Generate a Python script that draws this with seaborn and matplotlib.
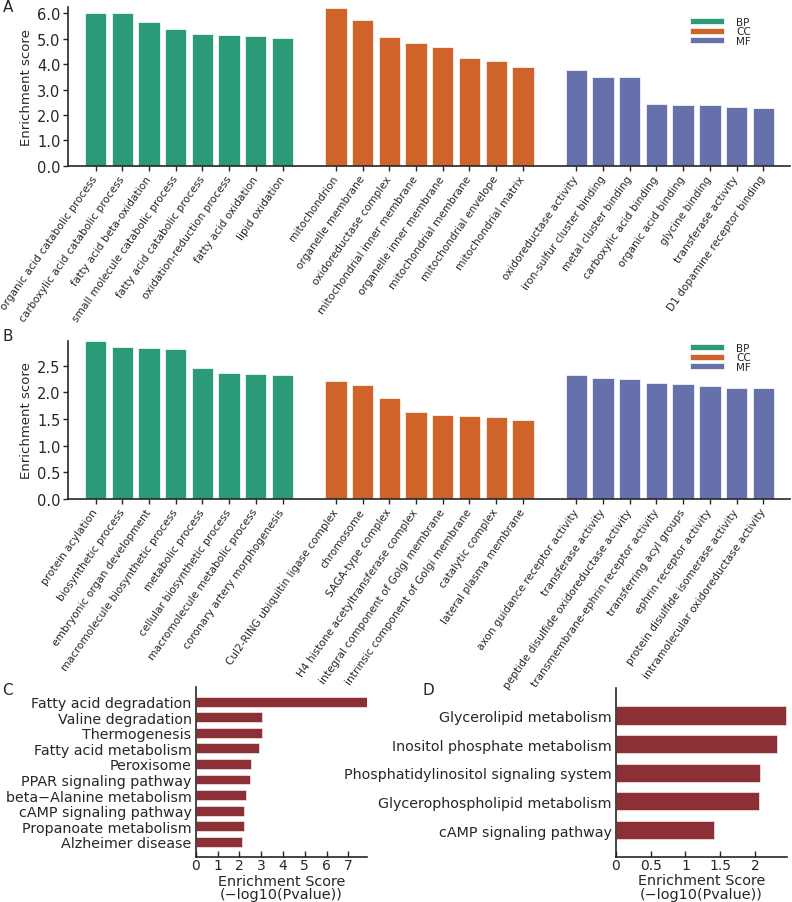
import numpy as np
import pandas as pd
import matplotlib.pyplot as plt
import seaborn as sns

# GO enrichment, panel A
a_bp_terms = ["organic acid catabolic process", "carboxylic acid catabolic process",
              "fatty acid beta-oxidation", "small molecule catabolic process",
              "fatty acid catabolic process", "oxidation-reduction process",
              "fatty acid oxidation", "lipid oxidation"]
a_bp_scores = [6.00, 6.00, 5.63, 5.37, 5.19, 5.14, 5.10, 5.02]
a_cc_terms = ["mitochondrion", "organelle membrane", "oxidoreductase complex",
              "mitochondrial inner membrane", "organelle inner membrane",
              "mitochondrial membrane", "mitochondrial envelope", "mitochondrial matrix"]
a_cc_scores = [6.20, 5.71, 5.05, 4.82, 4.65, 4.22, 4.10, 3.88]
a_mf_terms = ["oxidoreductase activity", "iron-sulfur cluster binding",
              "metal cluster binding", "carboxylic acid binding",
              "organic acid binding", "glycine binding", "transferase activity",
              "D1 dopamine receptor binding"]
a_mf_scores = [3.75, 3.51, 3.51, 2.45, 2.41, 2.39, 2.31, 2.28]

# GO enrichment, panel B
b_bp_terms = ["protein acylation", "biosynthetic process", "embryonic organ development",
              "macromolecule biosynthetic process", "metabolic process",
              "cellular biosynthetic process", "macromolecule metabolic process",
              "coronary artery morphogenesis"]
b_bp_scores = [2.95, 2.85, 2.83, 2.81, 2.46, 2.36, 2.34, 2.33]
b_cc_terms = ["Cul2-RING ubiquitin ligase complex", "chromosome", "SAGA-type complex",
              "H4 histone acetyltransferase complex", "integral component of Golgi membrane",
              "intrinsic component of Golgi membrane", "catalytic complex",
              "lateral plasma membrane"]
b_cc_scores = [2.21, 2.14, 1.89, 1.63, 1.58, 1.56, 1.53, 1.48]
b_mf_terms = ["axon guidance receptor activity", "transferase activity",
              "peptide disulfide oxidoreductase activity",
              "transmembrane-ephrin receptor activity", "transferring acyl groups",
              "ephrin receptor activity", "protein disulfide isomerase activity",
              "intramolecular oxidoreductase activity"]
b_mf_scores = [2.32, 2.27, 2.24, 2.17, 2.15, 2.11, 2.08, 2.08]

# KEGG, panel C
c_terms = ["Fatty acid degradation", "Valine degradation", "Thermogenesis",
           "Fatty acid metabolism", "Peroxisome", "PPAR signaling pathway",
           "beta\u2212Alanine metabolism", "cAMP signaling pathway",
           "Propanoate metabolism", "Alzheimer disease"]
c_scores = [7.84, 3.03, 3.02, 2.92, 2.52, 2.48, 2.31, 2.23, 2.23, 2.14]

# KEGG, panel D
d_terms = ["Glycerolipid metabolism", "Inositol phosphate metabolism",
           "Phosphatidylinositol signaling system", "Glycerophospholipid metabolism",
           "cAMP signaling pathway"]
d_scores = [2.44, 2.31, 2.07, 2.05, 1.41]

palette = {"BP": "#2b9a79", "CC": "#d0632a", "MF": "#6670aa"}
kegg_color = "#8d3035"

sns.set_style("ticks")
plt.rcParams["font.family"] = ["DejaVu Sans"]
plt.rcParams["axes.linewidth"] = 1.2

fig = plt.figure(figsize=(7.92, 9.03), dpi=100)


def go_panel(ax, bp, cc, mf, ytop, yticks, ylabels, legend_y):
    df = pd.concat([
        pd.DataFrame({"term": bp[0], "score": bp[1], "ont": "BP"}),
        pd.DataFrame({"term": cc[0], "score": cc[1], "ont": "CC"}),
        pd.DataFrame({"term": mf[0], "score": mf[1], "ont": "MF"}),
    ])
    # blank slots give the gaps between the three groups
    order = list(bp[0]) + [""] + list(cc[0]) + [" "] + list(mf[0])
    sns.barplot(data=df, x="term", y="score", hue="ont", order=order,
                hue_order=["BP", "CC", "MF"], palette=palette, dodge=False,
                saturation=1, width=0.8, edgecolor="white", linewidth=0.5, ax=ax)
    pos = [i for i, t in enumerate(order) if t.strip()]
    ax.set_xticks(pos)
    ax.set_xticklabels([order[i] for i in pos], rotation=55, ha="right",
                       va="center", rotation_mode="anchor", fontsize=7.6)
    ax.tick_params(axis="x", length=3.5, width=1, pad=4)
    ax.tick_params(axis="y", length=3.5, width=1, pad=2, labelsize=10.5)
    ax.set_xlim(-1.03, 26.0)
    ax.set_ylim(0, ytop)
    ax.set_yticks(yticks)
    ax.set_yticklabels(ylabels)
    ax.set_xlabel("")
    ax.set_ylabel("Enrichment score", fontsize=9.5, labelpad=3)
    sns.despine(ax=ax)
    ax.legend(loc="upper left", bbox_to_anchor=(0.8546, legend_y), frameon=False,
              fontsize=7.5, handlelength=3.2, handleheight=0.55, handletextpad=1.2,
              labelspacing=-0.05, borderpad=0)


ax_a = fig.add_axes([0.0859, 0.8151, 0.9116, 0.1761])
go_panel(ax_a, (a_bp_terms, a_bp_scores), (a_cc_terms, a_cc_scores),
         (a_mf_terms, a_mf_scores), 6.24, np.arange(0, 7, 1.0),
         ["%.1f" % v for v in np.arange(0, 7, 1.0)], 0.97)

ax_b = fig.add_axes([0.0859, 0.4463, 0.9116, 0.175])
go_panel(ax_b, (b_bp_terms, b_bp_scores), (b_cc_terms, b_cc_scores),
         (b_mf_terms, b_mf_scores), 2.96, np.arange(0, 3.0, 0.5),
         ["%.1f" % v for v in np.arange(0, 3.0, 0.5)], 1.02)


def kegg_panel(ax, terms, scores, xmax, xticks, xlabels, ylim):
    sns.barplot(x=scores, y=terms, orient="h", color=kegg_color, saturation=1,
                width=0.63, edgecolor="white", linewidth=0.4, ax=ax)
    ax.set_xlim(0, xmax)
    ax.set_ylim(*ylim)
    ax.set_xticks(xticks)
    ax.set_xticklabels(xlabels)
    ax.tick_params(axis="x", direction="in", length=4, width=1, pad=1, labelsize=10)
    ax.tick_params(axis="y", length=0, pad=3, labelsize=10.3)
    ax.set_xlabel("Enrichment Score\n(\u2212log10(Pvalue))", fontsize=10.4,
                  linespacing=0.95, labelpad=1)
    ax.set_ylabel("")
    sns.despine(ax=ax)


ax_c = fig.add_axes([0.2471, 0.0498, 0.2159, 0.1883])
kegg_panel(ax_c, c_terms, c_scores, 7.84, list(range(8)),
           [str(v) for v in range(8)], (9.97, -0.94))

ax_d = fig.add_axes([0.7774, 0.0502, 0.2159, 0.1871])
kegg_panel(ax_d, d_terms, d_scores, 2.45, [0, 0.5, 1, 1.5, 2],
           ["0", "0.5", "1", "1.5", "2"], (4.93, -0.97))

for letter, x, y in [("A", 3, 7.5), ("B", 3, 337), ("C", 2, 691), ("D", 423, 691)]:
    fig.text(x / 792, 1 - y / 903, letter, fontsize=11, va="center", ha="left")

fig.savefig("out.png", dpi=100)
